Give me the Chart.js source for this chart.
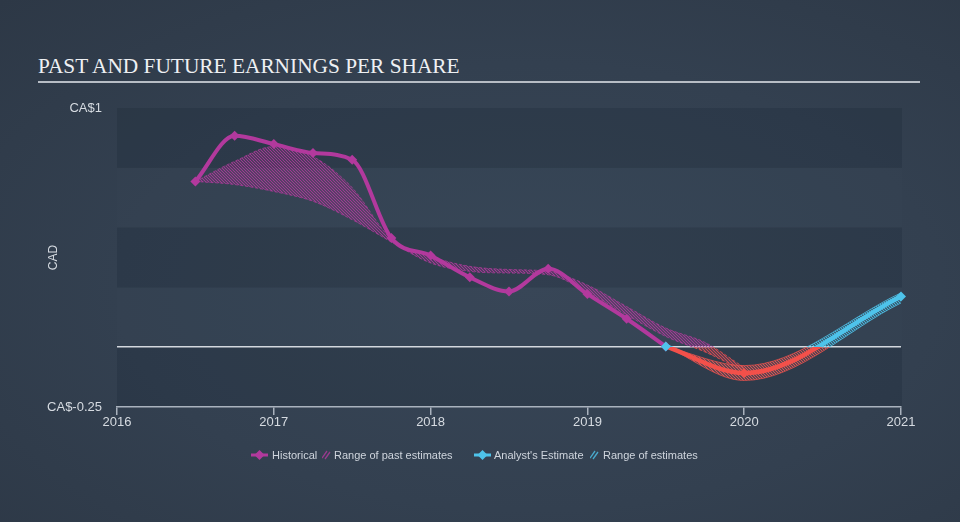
<!DOCTYPE html>
<html>
<head>
<meta charset="utf-8">
<script src="https://cdn.jsdelivr.net/npm/chart.js@4/dist/chart.umd.min.js"></script>
<style>
  html, body { margin: 0; padding: 0; }
  body {
    width: 960px; height: 522px; overflow: hidden; position: relative;
    background: radial-gradient(ellipse at 55% 55%, #384657 0%, #334050 55%, #2d3846 100%);
    font-family: "Liberation Sans", Arial, sans-serif;
  }
  #title {
    position: absolute; left: 38px; top: 54px; width: 882px;
    font: 21.35px/24px "Liberation Serif", "Times New Roman", serif;
    color: #eef0f3; border-bottom: 2px solid #b7bdc5; padding-bottom: 3px;
  }
  #chart { position: absolute; left: 0; top: 0; }
  .lg { position: absolute; top: 447px; height: 16px; font-size: 11px; line-height: 16px; color: #cfd5dd; white-space: nowrap; }
  .lg svg { position: absolute; top: 3px; }
</style>
</head>
<body>
<div id="title">PAST AND FUTURE EARNINGS PER SHARE</div>
<canvas id="chart" width="960" height="522"></canvas>

<div class="lg" style="left:251px"><svg width="17" height="10"><line x1="0" y1="5" x2="17" y2="5" stroke="#b2399d" stroke-width="3"/><path d="M8.5 0 L13.5 5 L8.5 10 L3.5 5Z" fill="#b2399d"/></svg></div>
<div class="lg" style="left:272px">Historical</div>
<div class="lg" style="left:322px"><svg width="9" height="10"><path d="M0 8 L5 1 M3 9 L8 2" stroke="#b2399d" stroke-width="1.3" opacity="0.8"/></svg></div>
<div class="lg" style="left:334px">Range of past estimates</div>
<div class="lg" style="left:474px"><svg width="17" height="10"><line x1="0" y1="5" x2="17" y2="5" stroke="#4ec3ea" stroke-width="3"/><path d="M8.5 0 L13.5 5 L8.5 10 L3.5 5Z" fill="#4ec3ea"/></svg></div>
<div class="lg" style="left:494px">Analyst's Estimate</div>
<div class="lg" style="left:590px"><svg width="9" height="10"><path d="M0 8 L5 1 M3 9 L8 2" stroke="#4ec3ea" stroke-width="1.3" opacity="0.8"/></svg></div>
<div class="lg" style="left:603px">Range of estimates</div>

<script>
// decimal years on the x axis
const histDates = [2016.5, 2016.75, 2017.0, 2017.25, 2017.5, 2017.75, 2018.0, 2018.25, 2018.5, 2018.75, 2019.0, 2019.25, 2019.5];
const histEps   = [0.693, 0.884, 0.849, 0.812, 0.784, 0.456, 0.383, 0.292, 0.233, 0.328, 0.222, 0.119, 0.003];

const pastRangeDates = [2016.5, 2016.75, 2017.0, 2017.25, 2017.5, 2017.75, 2018.0, 2018.25, 2018.5, 2018.75, 2019.0, 2019.25, 2019.5, 2019.75, 2020.0];
const pastRangeHigh  = [0.693, 0.777, 0.839, 0.797, 0.667, 0.452, 0.38, 0.338, 0.325, 0.317, 0.26, 0.17, 0.08, 0.02, -0.085];
const pastRangeLow   = [0.693, 0.68, 0.651, 0.61, 0.533, 0.44, 0.352, 0.317, 0.31, 0.303, 0.23, 0.135, 0.045, -0.02, -0.1];

const estDates = [2019.5, 2020.0, 2021.0];
const estEps   = [0.003, -0.108, 0.212];
const estHigh  = [0.003, -0.077, 0.227];
const estLow   = [0.003, -0.139, 0.185];

const yTickLabels = { '1': 'CA$1', '-0.25': 'CA$-0.25' };

const MAGENTA = '#b2399d';
const CYAN = '#4ec3ea';
const RED = '#f3504a';
const AXIS = '#a9b2bd';
const TEXT = '#d6dbe1';

const pts = (xs, ys) => xs.map((x, i) => ({ x, y: ys[i] }));

// full-canvas hatch, one colour above the zero line and another below it
const hatchCache = {};
function splitHatch(above, below) {
  return (ctx) => {
    const chart = ctx.chart;
    if (!chart.chartArea) return 'transparent';
    const y0 = chart.scales.y.getPixelForValue(0);
    const key = above + below + chart.width + 'x' + chart.height + ':' + y0;
    if (hatchCache[key]) return hatchCache[key];
    const c = document.createElement('canvas');
    c.width = chart.width; c.height = chart.height;
    const g = c.getContext('2d');
    g.strokeStyle = above; g.lineWidth = 1.1;
    g.beginPath();
    for (let k = -c.height; k < c.width; k += 3) {
      g.moveTo(k, 0); g.lineTo(k + c.height, c.height);
    }
    g.stroke();
    g.globalCompositeOperation = 'source-atop';
    g.fillStyle = below;
    g.fillRect(0, y0, c.width, c.height - y0);
    hatchCache[key] = chart.ctx.createPattern(c, 'no-repeat');
    return hatchCache[key];
  };
}

function splitLine(above, below) {
  return (ctx) => {
    const chart = ctx.chart, area = chart.chartArea;
    if (!area) return above;
    const y0 = chart.scales.y.getPixelForValue(0);
    const t = Math.min(1, Math.max(0, (y0 - area.top) / (area.bottom - area.top)));
    const g = chart.ctx.createLinearGradient(0, area.top, 0, area.bottom);
    g.addColorStop(0, above); g.addColorStop(t, above);
    g.addColorStop(t, below); g.addColorStop(1, below);
    return g;
  };
}

const bands = {
  id: 'bands',
  beforeDraw(chart) {
    const { ctx, chartArea: a, scales: { y } } = chart;
    ctx.save();
    const ticks = y.ticks.map(t => t.value).sort((p, q) => p - q);
    for (let i = 0; i < ticks.length - 1; i++) {
      const top = y.getPixelForValue(ticks[i + 1]);
      const bot = y.getPixelForValue(ticks[i]);
      ctx.fillStyle = i % 2 === 0 ? 'rgba(15,25,38,0.16)' : 'rgba(70,85,100,0.06)';
      ctx.fillRect(a.left, top, a.right - a.left + 1, bot - top);
    }
    ctx.restore();
  }
};

new Chart(document.getElementById('chart'), {
  type: 'line',
  data: {
    datasets: [
      {
        label: "Analyst's Estimate",
        data: pts(estDates, estEps),
        borderColor: splitLine(CYAN, RED),
        borderWidth: 4.5,
        cubicInterpolationMode: 'monotone',
        pointStyle: 'rectRot',
        pointRadius: 5,
        pointBorderWidth: 0,
        pointBackgroundColor: estEps.map(v => v < 0 ? RED : CYAN),
        fill: false,
        clip: 8,
        order: 0,
      },
      {
        label: 'Historical',
        data: pts(histDates, histEps),
        borderColor: MAGENTA,
        borderWidth: 4,
        cubicInterpolationMode: 'monotone',
        pointStyle: 'rectRot',
        pointRadius: 5,
        pointBorderWidth: 0,
        pointBackgroundColor: MAGENTA,
        fill: false,
        order: 1,
      },
      {
        label: 'est low',
        data: pts(estDates, estLow),
        borderColor: splitLine('rgba(78,195,234,0.7)', 'rgba(243,80,74,0.7)'),
        borderWidth: 1,
        cubicInterpolationMode: 'monotone',
        pointRadius: 0,
        fill: false,
        order: 2,
      },
      {
        label: 'Range of estimates',
        data: pts(estDates, estHigh),
        borderColor: splitLine('rgba(78,195,234,0.7)', 'rgba(243,80,74,0.7)'),
        borderWidth: 1,
        cubicInterpolationMode: 'monotone',
        pointRadius: 0,
        backgroundColor: splitHatch('rgba(78,195,234,0.9)', 'rgba(243,80,74,0.9)'),
        fill: { target: 2 },
        order: 3,
      },
      {
        label: 'past low',
        data: pts(pastRangeDates, pastRangeLow),
        borderColor: splitLine('rgba(178,57,157,0.7)', 'rgba(243,80,74,0.7)'),
        borderWidth: 1,
        borderDash: [3, 2],
        cubicInterpolationMode: 'monotone',
        pointRadius: 0,
        fill: false,
        order: 4,
      },
      {
        label: 'Range of past estimates',
        data: pts(pastRangeDates, pastRangeHigh),
        borderColor: splitLine('rgba(178,57,157,0.7)', 'rgba(243,80,74,0.7)'),
        borderWidth: 1,
        borderDash: [3, 2],
        cubicInterpolationMode: 'monotone',
        pointRadius: 0,
        backgroundColor: splitHatch('rgba(178,57,157,0.85)', 'rgba(243,80,74,0.85)'),
        fill: { target: 4 },
        order: 5,
      },
    ],
  },
  options: {
    responsive: false,
    animation: false,
    layout: { padding: { left: 0, right: 59, top: 108, bottom: 85 } },
    plugins: {
      legend: { display: false },
      tooltip: { enabled: false },
    },
    scales: {
      x: {
        type: 'linear',
        min: 2016,
        max: 2021,
        afterFit: s => { s.height = 30; },
        ticks: {
          stepSize: 1,
          padding: 0,
          color: TEXT,
          font: { family: '"Liberation Sans", Arial, sans-serif', size: 13 },
          callback: v => String(v),
        },
        grid: { drawOnChartArea: false, color: AXIS, tickLength: 8, lineWidth: 1.5 },
        border: { color: AXIS, width: 1.5 },
      },
      y: {
        min: -0.25,
        max: 1,
        afterFit: s => { s.width = 117; },
        ticks: {
          stepSize: 0.25,
          padding: 15,
          color: TEXT,
          font: { family: '"Liberation Sans", Arial, sans-serif', size: 13 },
          callback: v => yTickLabels[String(v)] || '',
        },
        grid: {
          drawTicks: false,
          color: c => c.tick && c.tick.value === 0 ? '#d3d8de' : 'transparent',
          lineWidth: 1.5,
        },
        border: { display: false },
        title: {
          display: true,
          text: 'CAD',
          color: TEXT,
          font: { family: '"Liberation Sans", Arial, sans-serif', size: 12 },
          padding: { top: 46, bottom: 0 },
        },
      },
    },
  },
  plugins: [bands],
});
</script>
</body>
</html>
